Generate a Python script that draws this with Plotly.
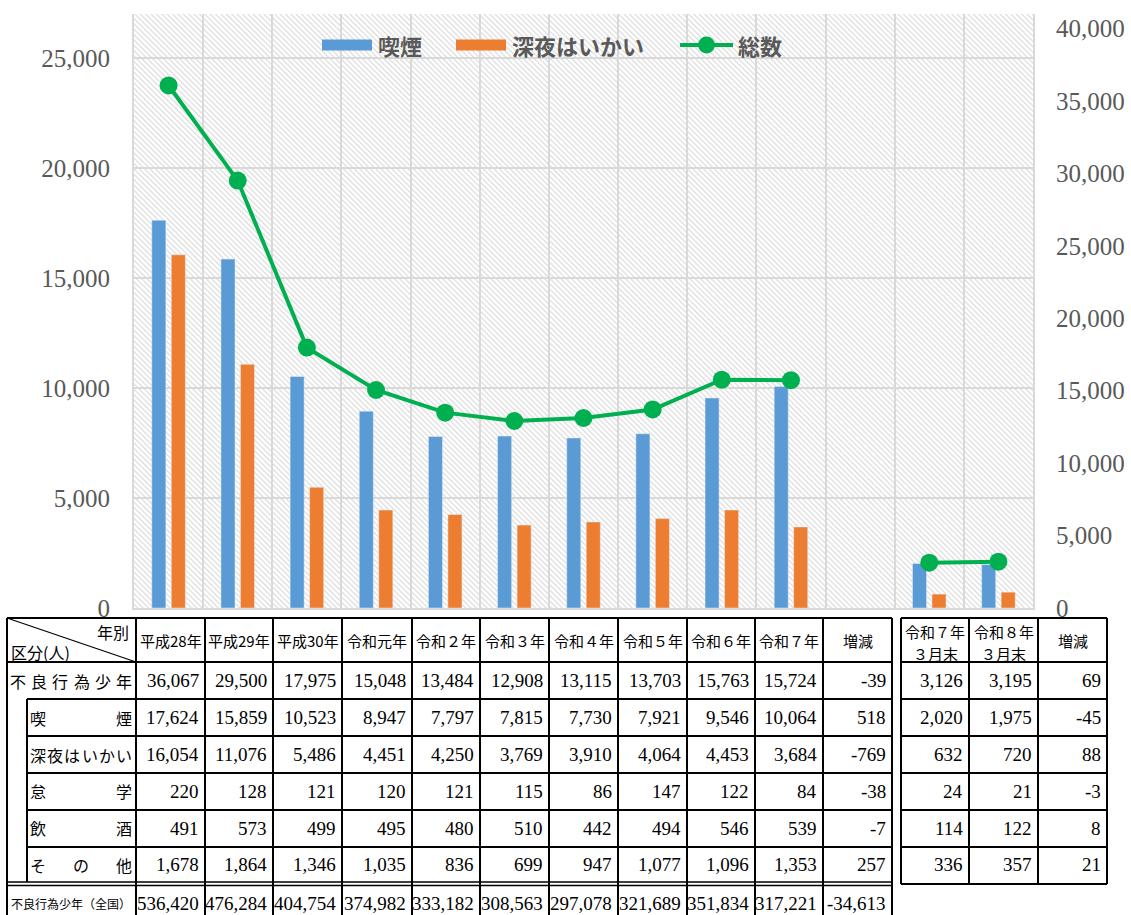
import base64
import plotly.graph_objects as go

# ---------------- data ----------------
year_labels = ["平成28年", "平成29年", "平成30年", "令和元年", "令和２年", "令和３年",
               "令和４年", "令和５年", "令和６年", "令和７年"]
change_label = "増減"
month_labels = [("令和７年", "３月末"), ("令和８年", "３月末")]

row_labels = ["不良行為少年", "喫煙", "深夜はいかい", "怠学", "飲酒", "その他"]

total = [36067, 29500, 17975, 15048, 13484, 12908, 13115, 13703, 15763, 15724]
smoking = [17624, 15859, 10523, 8947, 7797, 7815, 7730, 7921, 9546, 10064]
night = [16054, 11076, 5486, 4451, 4250, 3769, 3910, 4064, 4453, 3684]
truancy = [220, 128, 121, 120, 121, 115, 86, 147, 122, 84]
drinking = [491, 573, 499, 495, 480, 510, 442, 494, 546, 539]
other = [1678, 1864, 1346, 1035, 836, 699, 947, 1077, 1096, 1353]
year_changes = [-39, 518, -769, -38, -7, 257]

total_m = [3126, 3195]
smoking_m = [2020, 1975]
night_m = [632, 720]
truancy_m = [24, 21]
drinking_m = [114, 122]
other_m = [336, 357]
month_changes = [69, -45, 88, -3, 8, 21]

national_label = "不良行為少年（全国）"
national = [536420, 476284, 404754, 374982, 333182, 308563, 297078, 321689, 351834, 317221]
national_change = -34613

legend_names = ["喫煙", "深夜はいかい", "総数"]

# ---------------- style / layout constants ----------------
W, H = 1131, 915
PL, PR, PT, PB = 134, 1033, 14, 608          # plot area in pixels
BLUE, ORANGE, GREEN = "#5B9BD5", "#ED7D31", "#00B050"
GRID = "#D9D9D9"
AXTXT = "#595959"
JP = "Noto Sans CJK JP"
NUM = "Liberation Serif"

def px(x):
    return (x - PL) / (PR - PL)

def py(y):
    return (PB - y) / (PB - PT)

chart_labels = [y for y in year_labels] + [change_label] + ["".join(m) for m in month_labels]
chart_x = list(range(len(chart_labels)))
smoking_c = smoking + [None] + smoking_m
night_c = night + [None] + night_m
total_c = total + [None] + total_m

fig = go.Figure()
fig.add_trace(go.Bar(x=chart_x, y=smoking_c, name=legend_names[0], marker_color=BLUE,
                     showlegend=False, hovertext=chart_labels))
fig.add_trace(go.Bar(x=chart_x, y=night_c, name=legend_names[1], marker_color=ORANGE,
                     showlegend=False, hovertext=chart_labels))
fig.add_trace(go.Scatter(x=chart_x, y=total_c, name=legend_names[2], yaxis="y2",
                         mode="lines+markers", connectgaps=False,
                         line=dict(color=GREEN, width=4),
                         marker=dict(color=GREEN, size=18), showlegend=False,
                         hovertext=chart_labels))

# hatched plot-area background
pw, ph = PR - PL, PB - PT
svg = (f'<svg xmlns="http://www.w3.org/2000/svg" width="{pw}" height="{ph}" '
       f'viewBox="0 0 {pw} {ph}" preserveAspectRatio="none">'
       '<defs><pattern id="h" width="3.8" height="8" patternUnits="userSpaceOnUse" '
       'patternTransform="rotate(-45)"><rect x="0" y="0" width="1.2" height="8" fill="#dadada"/>'
       '</pattern></defs><rect width="100%" height="100%" fill="#ffffff"/>'
       '<rect width="100%" height="100%" fill="url(#h)"/></svg>')
src = "data:image/svg+xml;base64," + base64.b64encode(svg.encode()).decode()

shapes = []
annos = []

# ---------------- manual legend ----------------
LY = 45
shapes.append(dict(type="rect", xref="paper", yref="paper", x0=px(322), x1=px(372),
                   y0=py(LY + 5.5), y1=py(LY - 5.5), fillcolor=BLUE, line_width=0))
shapes.append(dict(type="rect", xref="paper", yref="paper", x0=px(456), x1=px(506),
                   y0=py(LY + 5.5), y1=py(LY - 5.5), fillcolor=ORANGE, line_width=0))
shapes.append(dict(type="line", xref="paper", yref="paper", x0=px(680), x1=px(733),
                   y0=py(LY), y1=py(LY), line=dict(color=GREEN, width=4)))
shapes.append(dict(type="circle", xref="paper", yref="paper", x0=px(698), x1=px(715),
                   y0=py(LY + 8.5), y1=py(LY - 8.5), fillcolor=GREEN, line_width=0))
for name, lx in zip(legend_names, [376, 510, 736]):
    annos.append(dict(xref="paper", yref="paper", x=px(lx), y=py(LY), xanchor="left",
                      yanchor="middle", showarrow=False, text=f"<b>{name}</b>",
                      font=dict(family=JP, size=22, color=AXTXT)))

# ---------------- table ----------------
main_cols = [7, 136, 205, 273, 342, 412, 480, 549, 618, 687, 755, 823, 892]
right_cols = [901, 969, 1038, 1107]
T_TOP, T_HEAD = 618, 662
row_edges = [662, 699, 736, 773, 810, 847, 882]
DBL2 = 885.5
LAST_BOTTOM = 921
INDENT = 27
LW = 2

def hline(y, x0, x1, w=LW):
    shapes.append(dict(type="line", xref="paper", yref="paper", x0=px(x0), x1=px(x1),
                       y0=py(y), y1=py(y), line=dict(color="black", width=w)))

def vline(x, y0, y1, w=LW):
    shapes.append(dict(type="line", xref="paper", yref="paper", x0=px(x), x1=px(x),
                       y0=py(y0), y1=py(y1), line=dict(color="black", width=w)))

def text(x, y, s, anchor="center", size=19, family=NUM, color="black"):
    annos.append(dict(xref="paper", yref="paper", x=px(x), y=py(y), xanchor=anchor,
                      yanchor="middle", showarrow=False, text=s,
                      font=dict(family=family, size=size, color=color)))

# main table grid
hline(T_TOP, main_cols[0], main_cols[-1])
hline(T_HEAD, main_cols[0], main_cols[-1])
for ye in row_edges[1:-1]:
    hline(ye, INDENT, main_cols[-1])
hline(row_edges[-1], main_cols[0], main_cols[-1], 1.5)
hline(DBL2, main_cols[0], main_cols[-1], 1.5)
hline(LAST_BOTTOM, main_cols[0], main_cols[-1])
for xc in main_cols:
    vline(xc, T_TOP, LAST_BOTTOM)
vline(INDENT, row_edges[1], row_edges[-1])
shapes.append(dict(type="line", xref="paper", yref="paper", x0=px(main_cols[0]),
                   x1=px(main_cols[1]), y0=py(T_TOP), y1=py(T_HEAD),
                   line=dict(color="black", width=1.3)))

# right table grid
for ye in [T_TOP] + row_edges[:-1] + [884]:
    hline(ye, right_cols[0], right_cols[-1])
for xc in right_cols:
    vline(xc, T_TOP, 884)

# header texts
text(131, 632, "年別", "right", 16, JP)
text(9, 652, "区分(人)", "left", 16, JP)
for i, lab in enumerate(year_labels + [change_label]):
    text((main_cols[i + 1] + main_cols[i + 2]) / 2, 640, lab, "center", 15, JP)
for i, (l1, l2) in enumerate(month_labels):
    cx = (right_cols[i] + right_cols[i + 1]) / 2
    text(cx, 631, l1, "center", 15, JP)
    text(cx, 653, l2, "center", 15, JP)
text((right_cols[2] + right_cols[3]) / 2, 640, change_label, "center", 15, JP)

# row labels (distributed)
def distributed(s, x0, x1, yc, size=16):
    n = len(s)
    if n == 1:
        text((x0 + x1) / 2, yc, s, "center", size, JP)
        return
    c0, c1 = x0 + size / 2, x1 - size / 2
    for k, ch in enumerate(s):
        text(c0 + (c1 - c0) * k / (n - 1), yc, ch, "center", size, JP)

row_year = [total, smoking, night, truancy, drinking, other]
row_month = [total_m, smoking_m, night_m, truancy_m, drinking_m, other_m]
for r, lab in enumerate(row_labels):
    yc = (row_edges[r] + row_edges[r + 1]) / 2
    if r == 0:
        distributed(lab, 10, 132, yc)
    else:
        distributed(lab, 30, 132, yc)
    vals = row_year[r] + [year_changes[r]]
    for i, v in enumerate(vals):
        text(main_cols[i + 2] - 4, yc, f"{v:,}", "right")
    mvals = row_month[r] + [month_changes[r]]
    for i, v in enumerate(mvals):
        text(right_cols[i + 1] - 4, yc, f"{v:,}", "right")

# national row
yc = 903
text(9, yc, national_label, "left", 12, JP)
for i, v in enumerate(national + [national_change]):
    text(main_cols[i + 2] - 4, yc, f"{v:,}", "right")

fig.update_layout(
    width=W, height=H, autosize=False,
    margin=dict(l=PL, r=W - PR, t=PT, b=H - PB, pad=0, autoexpand=False),
    paper_bgcolor="white", plot_bgcolor="rgba(0,0,0,0)",
    barmode="group", bargap=0.436, bargroupgap=0.28,
    showlegend=False,
    xaxis=dict(range=[-0.5, len(chart_labels) - 0.5], tick0=0.5, dtick=1,
               showticklabels=False, ticks="", showgrid=True, gridcolor=GRID, gridwidth=2,
               showline=True, linecolor=GRID, linewidth=2, zeroline=False, fixedrange=True,
               automargin=False),
    yaxis=dict(range=[0, 27000], dtick=5000, tickformat=",", showgrid=True,
               gridcolor=GRID, gridwidth=2, zeroline=False, showline=True,
               linecolor=GRID, linewidth=2, ticks="", ticklabelstandoff=17,
               automargin=False,
               tickfont=dict(family=NUM, size=25, color=AXTXT)),
    yaxis2=dict(range=[0, 41000], dtick=5000, tickformat=",", overlaying="y",
                side="right", showgrid=False, zeroline=False, showline=True,
                linecolor=GRID, linewidth=2, ticks="", ticklabelstandoff=16,
                automargin=False,
                tickfont=dict(family=NUM, size=25, color=AXTXT)),
    images=[dict(source=src, xref="paper", yref="paper", x=0, y=1, sizex=1, sizey=1,
                 sizing="stretch", layer="below", xanchor="left", yanchor="top")],
    shapes=shapes,
    annotations=annos,
)

fig.write_html("out.html", config={"displayModeBar": False},
               post_script="document.body.style.margin='0';document.body.style.overflow='hidden';")
